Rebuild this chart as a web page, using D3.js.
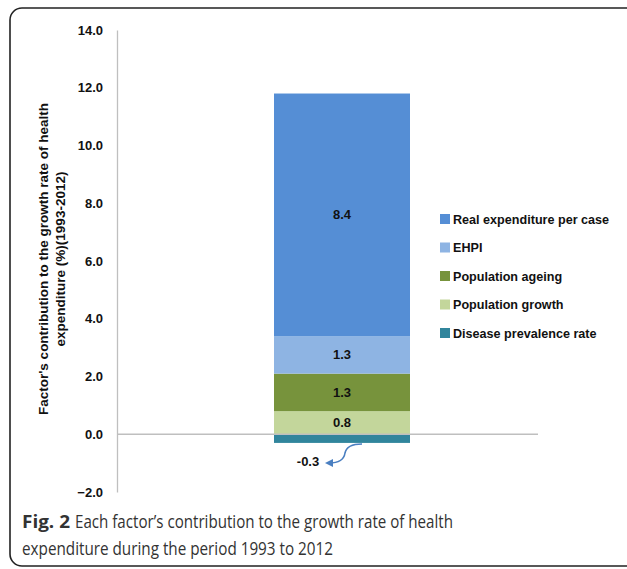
<!DOCTYPE html>
<html>
<head>
<meta charset="utf-8">
<script src="https://d3js.org/d3.v7.min.js"></script>
<style>
  body { margin: 0; background: #fff; }
  svg { display: block; }
</style>
</head>
<body>
<svg id="chart" width="627" height="569"></svg>
<script>
// data
const factors = ["Disease prevalence rate", "Population growth", "Population ageing", "EHPI", "Real expenditure per case"];
const values = [-0.3, 0.8, 1.3, 1.3, 8.4];
const colors = ["#31859C", "#C3D69B", "#77933C", "#8EB4E3", "#558ED5"];
const legendOrder = ["Real expenditure per case", "EHPI", "Population ageing", "Population growth", "Disease prevalence rate"];
const tickValues = [-2, 0, 2, 4, 6, 8, 10, 12, 14];

const svg = d3.select("#chart");
const FONT = "Liberation Sans, Arial, sans-serif";

// frame
svg.append("rect")
  .attr("x", 10).attr("y", 8)
  .attr("width", 640).attr("height", 558)
  .attr("rx", 12)
  .attr("fill", "none").attr("stroke", "#222").attr("stroke-width", 1.6);

const y = d3.scaleLinear().domain([-2, 14]).range([492, 30]);

// axis
const yAxis = d3.axisLeft(y).tickValues(tickValues).tickSize(0).tickPadding(14)
  .tickFormat(d3.format(".1f"));
const g = svg.append("g").attr("transform", "translate(117,0)").call(yAxis);
g.select(".domain").attr("stroke", "#bfbfbf").attr("stroke-width", 1.3);
g.selectAll("text")
  .attr("font-family", FONT)
  .attr("font-weight", "bold").attr("font-size", 13).attr("fill", "#111");

// stacked bar
let pos = 0, neg = 0;
const stacked = values.map((v, i) => {
  let y0, y1;
  if (v >= 0) { y0 = pos; y1 = pos + v; pos = y1; }
  else { y0 = neg + v; y1 = neg; neg = y0; }
  return { name: factors[i], v: v, y0: y0, y1: y1, color: colors[i] };
});

const barX = 274, barW = 136;
svg.selectAll("rect.bar").data(stacked).enter().append("rect")
  .attr("class", "bar")
  .attr("x", barX).attr("width", barW)
  .attr("y", d => y(d.y1))
  .attr("height", d => y(d.y0) - y(d.y1))
  .attr("fill", d => d.color);

// zero line
svg.append("line")
  .attr("x1", 117).attr("x2", 538)
  .attr("y1", y(0)).attr("y2", y(0))
  .attr("stroke", "#bfbfbf").attr("stroke-width", 1.3);

// labels
svg.selectAll("text.val").data(stacked.filter(d => d.v > 0)).enter().append("text")
  .attr("class", "val")
  .attr("x", barX + barW / 2)
  .attr("y", d => y((d.y0 + d.y1) / 2) + 4.5)
  .attr("text-anchor", "middle")
  .attr("font-family", FONT)
  .attr("font-weight", "bold").attr("font-size", 13).attr("fill", "#111")
  .text(d => d.v.toFixed(1));

const negItem = stacked[0];
svg.append("text")
  .attr("x", 308).attr("y", y(negItem.y0) + 23)
  .attr("text-anchor", "middle")
  .attr("font-family", FONT)
  .attr("font-weight", "bold").attr("font-size", 13).attr("fill", "#111")
  .text(negItem.v.toFixed(1));

// curved arrow
svg.append("defs").append("marker")
  .attr("id", "ah").attr("viewBox", "0 0 10 10")
  .attr("refX", 5).attr("refY", 5)
  .attr("markerWidth", 5).attr("markerHeight", 5)
  .attr("orient", "auto-start-reverse")
  .append("path").attr("d", "M0,0 L10,5 L0,10 z").attr("fill", "#4a7fc1");
svg.append("path")
  .attr("d", "M362,444 C350,444 346,448 345,453 C344,460 338,463 329,463")
  .attr("fill", "none").attr("stroke", "#4a7fc1").attr("stroke-width", 1.6)
  .attr("marker-end", "url(#ah)");

// legend
const leg = svg.append("g");
legendOrder.forEach((name, i) => {
  const c = colors[factors.indexOf(name)];
  const ly = 219 + i * 28.5;
  leg.append("rect").attr("x", 440).attr("y", ly - 5).attr("width", 10).attr("height", 10).attr("fill", c);
  leg.append("text").attr("x", 453).attr("y", ly + 4.5)
    .attr("font-family", FONT)
    .attr("font-weight", "bold").attr("font-size", 12.6).attr("fill", "#111")
    .text(name);
});

// y-axis title
svg.append("text")
  .attr("transform", "translate(48,259) rotate(-90)")
  .attr("text-anchor", "middle")
  .attr("font-family", FONT)
  .attr("font-weight", "bold").attr("font-size", 13.5).attr("fill", "#111")
  .text("Factor's contribution to the growth rate of health");
svg.append("text")
  .attr("transform", "translate(65,259) rotate(-90)")
  .attr("text-anchor", "middle")
  .attr("font-family", FONT)
  .attr("font-weight", "bold").attr("font-size", 13.5).attr("fill", "#111")
  .text("expenditure (%)(1993-2012)");

// caption
svg.append("text")
  .attr("x", 22).attr("y", 528)
  .attr("font-family", "Open Sans, sans-serif")
  .attr("font-size", 18).attr("font-weight", "bold").attr("fill", "#333")
  .attr("textLength", 48).attr("lengthAdjust", "spacingAndGlyphs")
  .text("Fig. 2");
svg.append("text")
  .attr("x", 75).attr("y", 528)
  .attr("font-family", "Open Sans, sans-serif")
  .attr("font-size", 18).attr("fill", "#333")
  .attr("textLength", 378).attr("lengthAdjust", "spacingAndGlyphs")
  .text("Each factor’s contribution to the growth rate of health");
svg.append("text")
  .attr("x", 22).attr("y", 555)
  .attr("font-family", "Open Sans, sans-serif")
  .attr("font-size", 18).attr("fill", "#333")
  .attr("textLength", 311).attr("lengthAdjust", "spacingAndGlyphs")
  .text("expenditure during the period 1993 to 2012");
</script>
</body>
</html>
